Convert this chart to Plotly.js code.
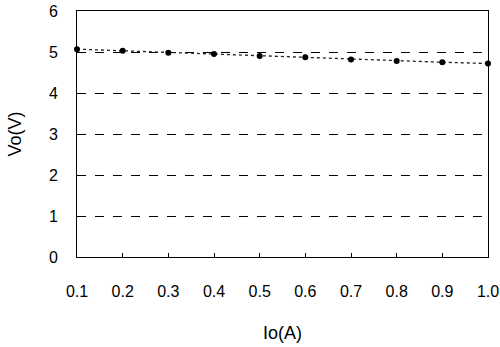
<!DOCTYPE html>
<html><head><meta charset="utf-8">
<script src="https://cdn.plot.ly/plotly-3.0.1.min.js"></script>
<style>html,body{margin:0;padding:0;background:#fff}#c{width:500px;height:347px}</style>
</head><body><div id="c"></div>
<script>
const io = [0.1,0.2,0.3,0.4,0.5,0.6,0.7,0.8,0.9,1.0];
const vo = [5.07,5.03,4.98,4.95,4.90,4.87,4.82,4.78,4.75,4.72];
const xTicks = [0.1,0.2,0.3,0.4,0.5,0.6,0.7,0.8,0.9,1.0];
const xTickLabels = ['0.1','0.2','0.3','0.4','0.5','0.6','0.7','0.8','0.9','1.0'];
const yTicks = [0,1,2,3,4,5,6];

Plotly.newPlot('c',[{
  x: io, y: vo, type:'scatter', mode:'lines+markers',
  line:{color:'#222',width:1.3,dash:'dot'},
  marker:{color:'#000',size:6},
  cliponaxis:false, showlegend:false
}],{
  width:500,height:347,
  margin:{l:77,r:12,t:11,b:90},
  paper_bgcolor:'#fff',plot_bgcolor:'#fff',
  font:{family:'Liberation Sans, Arial, sans-serif',color:'#000',size:16},
  xaxis:{range:[0.1,1.0],tickvals:xTicks,ticktext:xTickLabels,ticks:'inside',ticklen:4,tickcolor:'#000',
    showgrid:false,zeroline:false,showline:true,linecolor:'#000',linewidth:1,mirror:true,
    tickfont:{size:16},ticklabelstandoff:20,title:{text:'Io(A)',font:{size:18},standoff:27}},
  yaxis:{range:[0,6],tickvals:yTicks,ticks:'',showgrid:true,gridcolor:'#000',griddash:'dash',gridwidth:1,
    zeroline:false,showline:true,linecolor:'#000',linewidth:1,mirror:true,
    tickfont:{size:16},ticklabelstandoff:15,title:{text:'Vo(V)',font:{size:18},standoff:22}}
},{displayModeBar:false,staticPlot:true});
</script></body></html>
